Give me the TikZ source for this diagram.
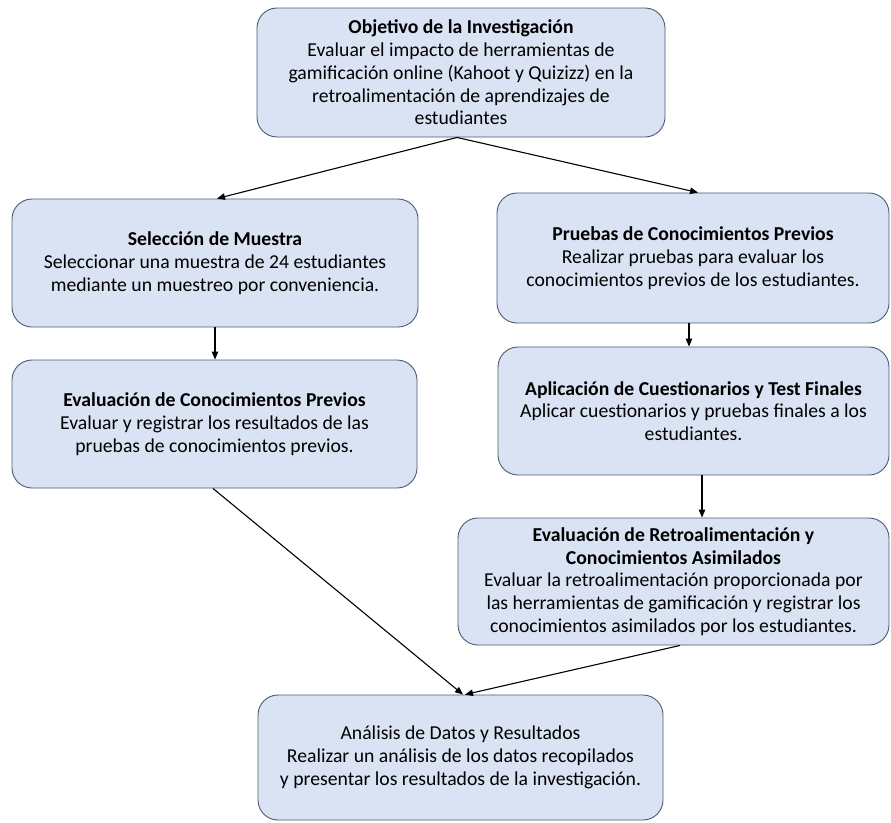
\documentclass[tikz,border=0pt]{standalone}
\usepackage{fontspec}
\setmainfont{Carlito}
\usetikzlibrary{arrows.meta}
\definecolor{boxfill}{HTML}{DAE3F3}
\definecolor{boxline}{HTML}{4A5A70}
\begin{document}
\begin{tikzpicture}[x=1pt,y=-1pt,
  box/.style={draw=boxline,line width=0.9pt,fill=boxfill,rounded corners=20pt,
    align=center,inner sep=0pt,font=\fontsize{19.7}{22.7}\selectfont},
  conn/.style={line width=1.1pt,-{Triangle[length=8pt,width=6.5pt]}}]
\useasboundingbox (0,0) rectangle (891,822);
\node[box,minimum width=408pt,minimum height=129pt] (obj) at (461,72.5)
  {\textbf{Objetivo de la Investigación}\\Evaluar el impacto de herramientas de\\gamificación online (Kahoot y Quizizz) en la\\retroalimentación de aprendizajes de\\estudiantes};
\node[box,minimum width=406pt,minimum height=128pt] (sel) at (215,263)
  {\textbf{Selección de Muestra}\\Seleccionar una muestra de 24 estudiantes\\mediante un muestreo por conveniencia.};
\node[box,minimum width=405pt,minimum height=128pt] (prev) at (214.5,424)
  {\textbf{Evaluación de Conocimientos Previos}\\Evaluar y registrar los resultados de las\\pruebas de conocimientos previos.};
\node[box,minimum width=392pt,minimum height=130pt] (pru) at (693,258)
  {\textbf{Pruebas de Conocimientos Previos}\\Realizar pruebas para evaluar los\\conocimientos previos de los estudiantes.};
\node[box,minimum width=391pt,minimum height=128pt] (apl) at (693.5,411)
  {\textbf{Aplicación de Cuestionarios y Test Finales}\\Aplicar cuestionarios y pruebas finales a los\\estudiantes.};
\node[box,minimum width=431pt,minimum height=127pt] (ret) at (673.5,581.5)
  {\textbf{Evaluación de Retroalimentación y}\\\textbf{Conocimientos Asimilados}\\Evaluar la retroalimentación proporcionada por\\las herramientas de gamificación y registrar los\\conocimientos asimilados por los estudiantes.};
\node[box,minimum width=405pt,minimum height=125pt] (ana) at (460.5,757.5)
  {Análisis de Datos y Resultados\\Realizar un análisis de los datos recopilados\\y presentar los resultados de la investigación.};
\draw[conn] ([xshift=-4pt]obj.south) -- ([xshift=2pt]sel.north);
\draw[conn] ([xshift=-4pt]obj.south) -- ([xshift=5pt]pru.north);
\draw[conn] (sel.south) -- (sel.south |- prev.north);
\draw[conn] ([xshift=-4pt]pru.south) -- ([xshift=-4pt]pru.south |- apl.north);
\draw[conn] ([xshift=8.5pt]apl.south) -- ([xshift=8.5pt]apl.south |- ret.north);
\draw[conn] ([xshift=-1.5pt]prev.south) -- ([xshift=2.5pt]ana.north);
\draw[conn] ([xshift=6.5pt]ret.south) -- ([xshift=4.5pt]ana.north);
\end{tikzpicture}
\end{document}
